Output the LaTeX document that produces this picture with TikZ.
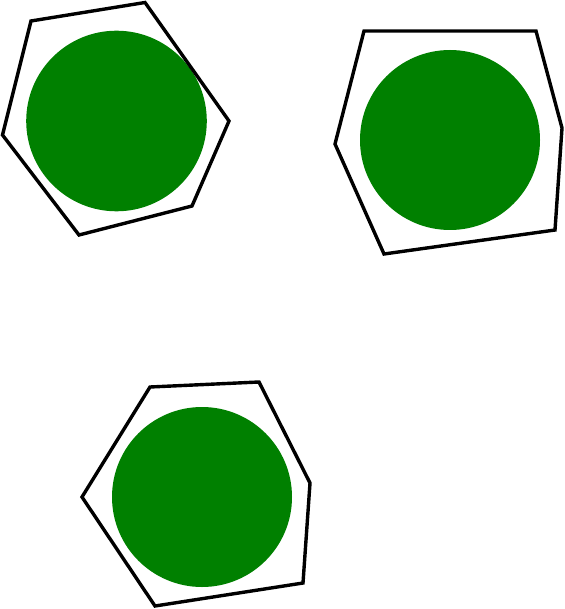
\documentclass[tikz,border=0pt]{standalone}
\definecolor{webgreen}{RGB}{0,128,0}
\tikzset{
  hexa/.style={draw=black, line width=3.4pt, line join=miter},
  disc/.style={fill=webgreen, draw=none}
}
\begin{document}
\begin{tikzpicture}[x=1pt,y=-1pt]
\useasboundingbox (0,0) rectangle (564,609);
% top-left
\fill[disc] (116.5,121) circle (90.3);
\draw[hexa] (31,21) -- (145,2.5) -- (229,121) -- (192,206) -- (79,235) -- (2.5,135) -- cycle;
% top-right
\fill[disc] (450,140) circle (90);
\draw[hexa] (364,31) -- (536,31) -- (562,128) -- (555,230) -- (384,254) -- (335,144) -- cycle;
% bottom
\fill[disc] (202,497) circle (90);
\draw[hexa] (150,387) -- (259,382) -- (310,483) -- (303,583) -- (155,606) -- (82,497) -- cycle;
\end{tikzpicture}
\end{document}
